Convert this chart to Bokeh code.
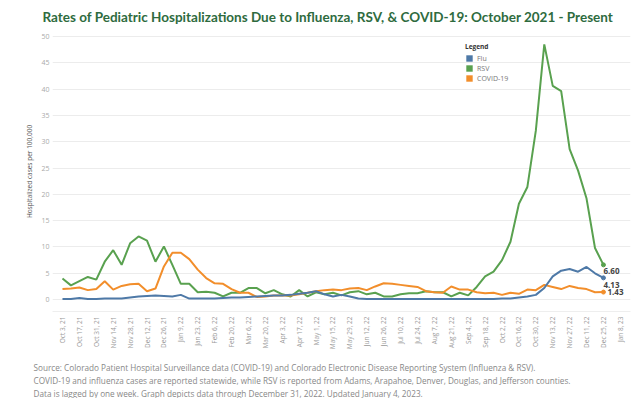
import math
from bokeh.plotting import figure
from bokeh.models import Range1d, FixedTicker, Legend, LegendItem, Title
from bokeh.core.properties import value
from bokeh.embed import file_html
from bokeh.resources import INLINE

# ---- data (weekly, Oct 3 2021 .. Dec 25 2022) ----
weeks = list(range(65))
flu = [0.1, 0.1, 0.3, 0.1, 0.1, 0.2, 0.2, 0.2, 0.4, 0.6, 0.7, 0.8, 0.7, 0.6, 0.9, 0.2,
       0.2, 0.2, 0.2, 0.3, 0.4, 0.4, 0.5, 0.6, 0.7, 0.8, 0.8, 0.9, 1.1, 1.3, 1.6, 1.0,
       0.6, 0.9, 0.6, 0.2, 0.1, 0.1, 0.1, 0.1, 0.1, 0.1, 0.1, 0.1, 0.1, 0.1, 0.1, 0.1,
       0.1, 0.1, 0.1, 0.1, 0.2, 0.2, 0.4, 0.6, 0.9, 2.2, 4.4, 5.5, 5.8, 5.3, 6.2, 5.0,
       4.13]
rsv = [4.0, 2.7, 3.5, 4.3, 3.8, 7.2, 9.4, 6.6, 10.7, 12.0, 11.2, 7.2, 10.1, 6.6, 3.0, 3.0,
       1.4, 1.5, 1.3, 0.6, 1.3, 1.3, 2.2, 2.2, 1.2, 1.8, 1.0, 0.6, 1.8, 0.6, 1.4, 1.0,
       1.3, 0.8, 1.4, 1.6, 1.0, 1.3, 0.6, 0.6, 1.0, 1.2, 1.2, 1.6, 1.4, 1.4, 0.6, 1.3,
       0.8, 2.4, 4.4, 5.3, 7.5, 11.0, 18.2, 21.4, 32.1, 48.5, 40.6, 39.6, 28.6, 24.5, 19.2, 9.8,
       6.60]
covid = [2.0, 2.1, 2.3, 1.8, 2.0, 3.5, 1.9, 2.6, 2.9, 3.0, 1.6, 2.1, 6.3, 8.9, 8.9, 7.7,
         5.7, 4.1, 3.1, 3.0, 2.0, 1.3, 1.3, 0.5, 0.6, 0.8, 0.8, 0.8, 1.0, 1.3, 1.6, 1.8,
         1.9, 1.8, 2.1, 2.2, 1.8, 2.5, 3.1, 3.0, 2.8, 2.6, 2.4, 1.6, 1.4, 1.3, 2.5, 1.9,
         1.9, 1.4, 1.2, 1.3, 0.9, 1.3, 1.1, 1.9, 1.8, 2.8, 2.4, 2.0, 2.6, 2.2, 2.0, 1.4,
         1.43]
tick_labels = ["Oct 3, 21", "Oct 17, 21", "Oct 31, 21", "Nov 14, 21", "Nov 28, 21",
               "Dec 12, 21", "Dec 26, 21", "Jan 9, 22", "Jan 23, 22", "Feb 6, 22",
               "Feb 20, 22", "Mar 6, 22", "Mar 20, 22", "Apr 3, 22", "Apr 17, 22",
               "May 1, 22", "May 15, 22", "May 29, 22", "Jun 12, 22", "Jun 26, 22",
               "Jul 10, 22", "Jul 24, 22", "Aug 7, 22", "Aug 21, 22", "Sep 4, 22",
               "Sep 18, 22", "Oct 2, 22", "Oct 16, 22", "Oct 30, 22", "Nov 13, 22",
               "Nov 27, 22", "Dec 11, 22", "Dec 25, 22", "Jan 8, 23"]
y_ticks = [0, 5, 10, 15, 20, 25, 30, 35, 40, 45, 50]
series_names = ["Flu", "RSV", "COVID-19"]

title_text = "Rates of Pediatric Hospitalizations Due to Influenza, RSV, & COVID-19: October 2021 - Present"
footer_lines = [
    "Source: Colorado Patient Hospital Surveillance data (COVID-19) and Colorado Electronic Disease Reporting System (Influenza & RSV).",
    "COVID-19 and influenza cases are reported statewide, while RSV is reported from Adams, Arapahoe, Denver, Douglas, and Jefferson counties.",
    "Data is lagged by one week. Graph depicts data through December 31, 2022. Updated January 4, 2023.",
]

FLU_C = "#4e79a7"
RSV_C = "#59a14f"
COV_C = "#f28e2b"
FONT = "Open Sans"
NAN = float("nan")

p = figure(width=640, height=398, output_backend="svg", toolbar_location=None,
           x_range=Range1d(-1.18, 67.2), y_range=Range1d(-2.26, 50.94),
           min_border_left=52, min_border_right=10, min_border_top=30, min_border_bottom=86)
p.outline_line_color = None
p.background_fill_color = "white"
p.border_fill_color = "white"

# title
p.title.text = title_text
p.title.align = "left"
p.title.offset = -10
p.title.standoff = 13
p.title.text_font = "Lato"
p.title.text_font_size = "13.5px"
p.title.text_font_style = "bold"
p.title.text_color = "#2e6b3e"

p.xgrid.visible = False
p.yaxis.ticker = FixedTicker(ticks=y_ticks)
p.ygrid.grid_line_color = "#ececec"
p.ygrid.grid_line_width = 1

p.yaxis.axis_line_color = None
p.yaxis.major_tick_line_color = None
p.yaxis.minor_tick_line_color = None
p.yaxis.major_tick_out = 0
p.yaxis.major_label_text_font = FONT
p.yaxis.major_label_text_font_size = "7px"
p.yaxis.major_label_text_color = "#aaaaaa"
p.yaxis.major_label_standoff = 3
p.yaxis.axis_label = "Hospitalized cases per 100,000"
p.yaxis.axis_label_text_font = FONT
p.yaxis.axis_label_text_font_size = "6.5px"
p.yaxis.axis_label_text_font_style = "normal"
p.yaxis.axis_label_text_color = "#555555"
p.yaxis.axis_label_standoff = 4

tick_pos = list(range(0, 2 * len(tick_labels), 2))
p.xaxis.ticker = FixedTicker(ticks=tick_pos)
p.xaxis.major_label_overrides = {t: lab for t, lab in zip(tick_pos, tick_labels)}
p.xaxis.major_label_orientation = math.pi / 2
p.xaxis.major_label_text_font = FONT
p.xaxis.major_label_text_font_size = "6.5px"
p.xaxis.major_label_text_color = "#999999"
p.xaxis.major_label_standoff = 5
p.xaxis.axis_line_color = "#eeeeee"
p.xaxis.major_tick_line_color = None
p.xaxis.minor_tick_line_color = None
p.xaxis.major_tick_out = 0

# lines
p.line(weeks, rsv, line_color=RSV_C, line_width=2)
p.line(weeks, covid, line_color=COV_C, line_width=2)
p.line(weeks, flu, line_color=FLU_C, line_width=2)

# end markers and labels
for ser, col, xo, yo in [(rsv, RSV_C, 0, 6), (flu, FLU_C, 0, 7), (covid, COV_C, 4, 0)]:
    p.scatter([weeks[-1]], [ser[-1]], size=4, color=col)
    p.text(x=[weeks[-1]], y=[ser[-1]], text=[f"{ser[-1]:.2f}"], text_font=value(FONT),
           text_font_size="8px", text_font_style="bold", text_color="#444444",
           text_baseline="middle", text_align="left", x_offset=xo, y_offset=yo)

# legend (swatch renderers have no visible marks)
leg_items = []
for name, col in zip(series_names, [FLU_C, RSV_C, COV_C]):
    r = p.quad(left=[NAN], right=[NAN], top=[NAN], bottom=[NAN], fill_color=col, line_color=None)
    leg_items.append(LegendItem(label=name, renderers=[r]))
legend = Legend(items=leg_items, location=(413, 228), title="Legend",
                title_text_font=FONT, title_text_font_size="6.5px", title_text_font_style="bold",
                title_text_color="#333333", title_standoff=2,
                label_text_font=FONT, label_text_font_size="7px", label_text_color="#777777",
                glyph_width=8, glyph_height=8, label_height=10, label_standoff=4,
                spacing=0, padding=0, margin=0, background_fill_alpha=0,
                border_line_color=None)
p.add_layout(legend)

# footer
for i, line in enumerate(footer_lines):
    t = Title(text=line, align="left", offset=-19, standoff=0,
              padding=(dict(left=0, right=0, top=7, bottom=0) if i == 0 else 0),
              text_font=FONT, text_font_size="8.2px", text_font_style="normal",
              text_line_height=1.05, text_color="#888888")
    p.add_layout(t, "below")

open("out.html", "w").write(file_html(p, INLINE))
